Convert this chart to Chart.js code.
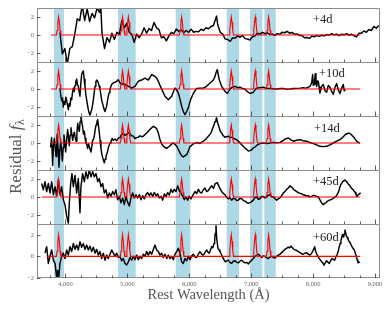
<!DOCTYPE html>
<html>
<head>
<meta charset="utf-8">
<script src="https://cdn.jsdelivr.net/npm/chart.js@4.4.1/dist/chart.umd.min.js"></script>
<style>
  body { margin: 0; background: #fff; }
  #wrap { position: relative; width: 390px; height: 312px; }
  #wrap canvas { position: absolute; left: 0; top: 0; }
</style>
</head>
<body>
<div id="wrap"></div>
<script>
// epochs of the residual spectra, top to bottom
const epochs = ['+4d', '+10d', '+14d', '+45d', '+60d'];

const heLines = [3889, 4922, 5016, 5876, 6678, 7065, 7281];
const lineOffsets = [-36, -24, -12, 0, 12, 24, 36];
const lineShape = [0, 0.5, 1.4, 2, 1.4, 0.5, 0];

// shaded line regions (Angstrom)
const bands = [[3815, 3975], [4849, 5134], [5781, 6017], [6604, 6803], [6981, 7180], [7212, 7396]];

// wavelength span of the red model in each panel
const modelRange = [[3766, 8760], [3766, 8760], [3766, 8760], [3616, 8760], [3696, 8760]];
const yRange = [[-3, 3], [-3, 3], [-3, 3], [-3, 3], [-2, 3]];
const yTicks = [-2, 0, 2];
const xTicks = [4000, 5000, 6000, 7000, 8000, 9000];

// residual spectra [wavelength, residual]
const spec4d = [[3910,0.3],[3950,-2.1],[3990,-1.5],[4030,-3.2],[4070,-1.5],[4110,-1.3],[4150,0.1],[4190,1.8],[4230,1.6],[4270,3.3],[4310,1.6],[4350,2.9],[4390,1.5],[4430,2.4],[4470,1.9],[4510,3.0],[4550,2.5],[4570,3.2],[4590,0.2],[4630,-1.5],[4670,-0.3],[4710,-0.8],[4750,0.2],[4790,-0.5],[4830,0.3],[4870,0.1],[4910,1.6],[4950,0.8],[4990,1.3],[5030,0.3],[5070,0.1],[5110,-0.8],[5150,0.1],[5190,-0.3],[5230,0.1],[5270,0.8],[5310,0.2],[5350,0.7],[5390,0.5],[5430,1.4],[5470,0.8],[5510,0.6],[5550,-0.3],[5590,-0.2],[5630,-0.65],[5670,-0.1],[5710,0.3],[5750,0.15],[5790,0.65],[5830,0.4],[5870,0.55],[5910,0.25],[5950,0.5],[5990,0.3],[6030,0.65],[6070,0.3],[6110,0.4],[6150,0.35],[6190,0.65],[6230,0.5],[6270,0.8],[6310,0.7],[6350,0.95],[6390,1.05],[6420,1.7],[6440,2.1],[6460,1.1],[6500,0.3],[6540,0.1],[6580,-0.45],[6620,-0.5],[6660,-0.7],[6700,-0.3],[6740,-0.35],[6780,-0.1],[6820,-0.25],[6860,-0.05],[6900,-0.4],[6940,-0.45],[6980,-0.55],[7020,-0.2],[7060,-0.1],[7100,0.2],[7140,0.1],[7180,0.3],[7220,0.15],[7260,0.25],[7300,0.05],[7340,0.1],[7380,-0.05],[7420,0.15],[7460,0.1],[7500,0.3],[7540,0.25],[7580,0.4],[7620,0.2],[7660,0.28],[7700,0.1],[7740,0.12],[7780,-0.05],[7820,-0.05],[7860,-0.3],[7900,-0.28],[7940,-0.38],[7980,-0.12],[8020,-0.2],[8060,-0.05],[8100,-0.15],[8140,-0.02],[8180,-0.1],[8220,0.05],[8260,-0.02],[8300,0.14],[8340,0.02],[8380,0.1],[8420,-0.06],[8460,0.08],[8500,0.02],[8540,0.15],[8580,-0.02],[8620,0.08],[8660,-0.08],[8700,-0.2],[8740,0.2],[8780,0.2],[8820,0.45],[8860,0.3],[8900,0.6],[8940,0.5],[8980,0.95],[9020,0.75],[9060,1.05]];

const spec10d = [[3911,0.1],[3925,-0.8],[3938,-1.3],[3952,-1.0],[3965,-2.0],[3980,-1.4],[3992,-1.7],[4006,-0.9],[4019,-1.3],[4033,-1.8],[4046,-2.3],[4060,-1.6],[4073,-1.9],[4086,-1.0],[4100,-1.2],[4113,-0.4],[4127,0.1],[4140,-0.3],[4154,0.4],[4167,0.8],[4181,1.1],[4194,0.5],[4207,0.3],[4220,-0.3],[4234,-0.8],[4247,0.6],[4261,1.6],[4275,1.9],[4288,2.0],[4302,1.1],[4315,0.3],[4329,-0.6],[4342,-1.2],[4356,-1.8],[4369,-2.3],[4383,-2.7],[4396,-2.9],[4410,-2.6],[4423,-2.3],[4437,-1.8],[4450,-1.2],[4464,-0.4],[4477,0.3],[4491,0.8],[4504,1.0],[4517,0.9],[4530,0.7],[4544,0.3],[4557,0],[4571,-0.6],[4584,-1.2],[4598,-1.6],[4611,-1.9],[4625,-2.3],[4638,-2.5],[4652,-2.2],[4665,-1.9],[4679,-1.3],[4692,-0.8],[4706,-0.4],[4719,0],[4746,0.5],[4773,0.7],[4800,0.75],[4827,0.85],[4840,1.0],[4853,1.0],[4880,0.7],[4907,0.5],[4934,0.6],[4961,0.5],[4988,0.4],[5015,0.3],[5042,0.2],[5069,0.1],[5096,0.2],[5123,0.3],[5150,0.6],[5176,0.85],[5203,0.95],[5230,1.0],[5257,1.1],[5284,1.2],[5311,1.1],[5338,1.0],[5365,1.3],[5392,1.6],[5419,1.5],[5446,1.4],[5473,1.2],[5500,0.85],[5526,0.4],[5553,0],[5580,-0.4],[5607,-0.8],[5634,-1.0],[5661,-1.2],[5688,-1.0],[5715,-0.8],[5742,-0.3],[5769,0.1],[5796,-0.1],[5823,-0.45],[5849,-1.1],[5876,-1.9],[5903,-2.5],[5930,-2.85],[5957,-2.5],[5984,-2.1],[6011,-1.4],[6038,-0.9],[6065,-0.5],[6092,-0.2],[6119,0.05],[6172,0.1],[6226,0.1],[6280,0.3],[6307,0.5],[6350,0.75],[6388,1.0],[6410,1.3],[6431,1.8],[6452,2.15],[6470,1.5],[6485,1.0],[6522,0.3],[6550,0],[6576,-0.25],[6614,-0.5],[6657,0],[6700,0.2],[6738,0.3],[6780,0.15],[6818,0.2],[6860,0.05],[6899,0],[6940,-0.3],[6980,-0.5],[7034,-0.37],[7060,-0.1],[7088,0.1],[7140,0.15],[7195,0.2],[7250,0.05],[7303,0.07],[7357,0.02],[7411,0],[7465,0.06],[7518,0.07],[7570,-0.02],[7626,0],[7680,0.05],[7734,0.07],[7790,0.1],[7841,0.15],[7880,0.1],[7922,0.2],[7950,0.3],[7976,0.67],[7992,1.6],[8003,0.4],[8014,0.5],[8024,1.0],[8035,1.7],[8046,0.6],[8057,0.3],[8070,0.9],[8084,0.85],[8097,0.2],[8110,-0.45],[8137,0.3],[8164,0.5],[8190,-0.2],[8218,-0.37],[8245,0.4],[8272,0.2],[8300,-0.3],[8326,-0.6],[8353,0.2],[8380,0.6],[8406,-0.1],[8433,-0.5],[8460,0.1],[8487,0.5],[8503,-0.2],[8520,-0.07]];

const spec14d = [[3760,-0.5],[3776,0.6],[3793,-2.5],[3806,-0.3],[3820,0.5],[3833,-0.4],[3847,-1.5],[3858,0.2],[3868,1.0],[3882,-0.8],[3895,-2.7],[3908,-1.0],[3922,0.2],[3936,-0.7],[3949,-2.0],[3963,-0.5],[3976,0.9],[3990,0.1],[4003,-1.0],[4020,0.4],[4035,1.5],[4048,0.6],[4062,-0.3],[4075,0.9],[4089,1.7],[4102,1.0],[4116,0.3],[4130,0.9],[4143,1.2],[4157,0.6],[4170,0.2],[4184,1.0],[4197,2.2],[4210,1.6],[4224,1.3],[4237,2.4],[4250,3.1],[4264,2.3],[4277,1.8],[4290,1.0],[4304,1.3],[4318,0.5],[4331,0.0],[4345,-0.2],[4358,-0.6],[4372,-0.1],[4385,-0.4],[4398,-0.7],[4412,-1.0],[4425,-0.4],[4439,0.3],[4452,0.4],[4466,0.8],[4480,1.5],[4493,2.0],[4506,2.3],[4520,2.6],[4533,1.9],[4546,1.2],[4560,0.2],[4573,-0.6],[4586,-1.2],[4600,-1.6],[4613,-1.9],[4627,-2.2],[4640,-1.8],[4654,-1.5],[4668,-1.2],[4681,-0.9],[4694,-0.5],[4708,-0.2],[4722,0.0],[4735,0.2],[4754,0.5],[4773,0.3],[4800,0.45],[4827,0.25],[4853,0.55],[4880,0.6],[4907,0.95],[4934,1.1],[4961,0.85],[4988,0.95],[5015,1.15],[5042,1.0],[5069,0.8],[5096,0.75],[5123,0.5],[5150,0.6],[5176,0.65],[5203,0.8],[5230,0.7],[5257,0.75],[5284,0.95],[5311,1.1],[5338,1.3],[5365,1.5],[5392,1.7],[5419,1.85],[5446,1.75],[5473,1.6],[5500,1.1],[5526,0.4],[5553,-0.1],[5580,-0.35],[5607,-0.5],[5634,-0.6],[5661,-0.45],[5688,-0.3],[5715,-0.1],[5742,0],[5769,-0.15],[5796,-0.35],[5823,-0.7],[5849,-1.1],[5876,-1.4],[5903,-1.55],[5930,-1.4],[5957,-1.3],[5984,-0.9],[6011,-0.4],[6065,-0.1],[6119,0.05],[6172,-0.05],[6226,0.2],[6270,0.45],[6307,0.75],[6340,1.0],[6361,1.3],[6380,1.7],[6399,2.0],[6415,2.4],[6431,2.65],[6442,2.8],[6452,2.4],[6470,2.0],[6485,1.65],[6500,1.3],[6522,1.1],[6550,0.8],[6576,0.65],[6600,0.7],[6630,0.75],[6657,0.6],[6684,0.65],[6720,0.5],[6765,0.37],[6800,0.15],[6845,-0.2],[6870,-0.35],[6899,-0.55],[6925,-0.7],[6953,-0.9],[6980,-0.85],[7007,-0.75],[7034,-0.55],[7061,-0.45],[7100,-0.2],[7141,-0.07],[7195,0],[7249,-0.07],[7300,0],[7357,0.07],[7410,0.02],[7465,0.07],[7510,0.25],[7545,0.45],[7575,0.5],[7599,0.55],[7640,0.35],[7680,0.2],[7730,0.3],[7788,0.37],[7840,0.25],[7895,0.2],[7950,0.05],[8003,-0.07],[8055,-0.2],[8110,-0.37],[8160,-0.4],[8218,-0.37],[8270,-0.2],[8326,0],[8380,0.2],[8433,0.37],[8475,0.6],[8514,0.9],[8540,1.0],[8568,1.1],[8595,1.05],[8622,0.9],[8650,0.7],[8676,0.45],[8705,0.2],[8729,0.07],[8756,0]];

const spec45d = [[3615,1.5],[3642,0.8],[3669,1.7],[3696,0.6],[3723,1.5],[3750,0.45],[3777,1.7],[3804,0.25],[3831,1.15],[3858,0.07],[3884,1.9],[3911,0.25],[3938,1.15],[3965,-0.3],[3992,-0.85],[4019,-2.1],[4046,-2.9],[4062,-0.65],[4084,1.5],[4105,2.6],[4127,1.15],[4154,2.4],[4181,0.45],[4207,2.05],[4234,-1.75],[4250,1.15],[4277,2.6],[4304,1.7],[4331,2.8],[4358,2.05],[4385,3.0],[4412,2.25],[4439,2.8],[4466,2.25],[4493,2.6],[4520,1.7],[4546,2.05],[4573,1.15],[4600,1.5],[4627,0.45],[4654,0.8],[4681,-0.1],[4708,0.45],[4735,0.07],[4762,0.6],[4789,0.25],[4815,0.8],[4842,-0.3],[4869,0.07],[4896,-0.65],[4923,-0.1],[4950,-0.85],[4977,0.07],[5004,-0.6],[5031,-1.0],[5058,-0.1],[5085,0.45],[5112,-0.1],[5139,0.25],[5166,-0.1],[5193,0.25],[5220,-0.3],[5246,0.15],[5273,-0.2],[5300,0.25],[5327,0.5],[5354,0.15],[5381,0.45],[5408,0.07],[5435,0.5],[5462,0.15],[5489,0.35],[5516,-0.1],[5543,0.07],[5570,-0.35],[5597,0.35],[5624,0.07],[5651,0.5],[5677,0.2],[5704,0.85],[5731,0.5],[5758,0.85],[5785,0.6],[5812,1.25],[5839,0.7],[5866,0.45],[5893,0.07],[5920,-0.3],[5946,0],[5973,-0.35],[6000,0.07],[6027,-0.2],[6054,0.15],[6092,0.6],[6120,0.4],[6146,0.85],[6175,0.5],[6199,0.45],[6226,0.8],[6253,1.0],[6280,0.6],[6307,0.7],[6334,1.0],[6361,1.25],[6390,0.95],[6415,1.45],[6452,1.6],[6485,1.1],[6522,0.6],[6550,0.4],[6576,0.25],[6603,-0.05],[6630,-0.2],[6657,-0.1],[6684,-0.35],[6711,-0.15],[6738,-0.2],[6765,-0.4],[6792,-0.35],[6818,-0.15],[6845,-0.2],[6872,-0.4],[6899,-0.45],[6926,-0.6],[6953,-0.7],[6991,-0.6],[7034,-0.35],[7061,-0.05],[7088,0],[7115,-0.25],[7141,-0.2],[7168,0.05],[7195,0.07],[7222,-0.1],[7249,0],[7276,0.2],[7303,0.25],[7330,0.05],[7357,0],[7384,-0.2],[7411,-0.35],[7438,-0.2],[7465,-0.1],[7491,0.15],[7518,0.45],[7545,0.6],[7572,0.85],[7600,1.0],[7626,1.25],[7650,1.1],[7669,1.0],[7690,0.8],[7712,0.7],[7735,0.6],[7760,0.5],[7787,0.4],[7814,0.35],[7841,0.25],[7868,0.2],[7895,0.1],[7922,0.15],[7949,0.02],[7976,0.07],[8003,0.18],[8030,0.15],[8057,0.05],[8084,0],[8102,-0.2],[8121,-0.45],[8142,-0.7],[8164,-0.85],[8185,-0.7],[8207,-0.65],[8234,-0.45],[8261,-0.35],[8288,-0.3],[8315,-0.2],[8342,-0.05],[8369,0.07],[8390,0.3],[8412,0.6],[8428,1.0],[8444,1.35],[8460,1.5],[8476,1.7],[8495,1.8],[8514,1.9],[8533,1.75],[8552,1.6],[8568,1.45],[8584,1.35],[8600,1.15],[8616,1.0],[8632,0.9],[8649,0.8],[8665,0.6],[8681,0.5],[8692,0.3],[8703,0.07],[8716,0.15],[8729,0.25],[8748,0.35],[8767,0.45]];

const spec60d = [[3669,0.3],[3696,0.9],[3723,-0.65],[3750,0],[3777,0.6],[3804,-0.35],[3831,-0.65],[3858,-1.95],[3874,-1.3],[3890,-2.05],[3911,-0.65],[3938,0],[3965,0.3],[3992,-0.2],[4019,0.6],[4046,0.12],[4073,0.9],[4100,0.45],[4127,1.2],[4154,0.65],[4181,1.05],[4207,0.6],[4234,1.35],[4261,0.85],[4288,1.2],[4315,0.65],[4342,1.05],[4369,0.6],[4396,0.95],[4423,0.45],[4450,0.85],[4477,0.3],[4504,0.65],[4530,0.12],[4557,0.45],[4584,-0.2],[4611,0.3],[4638,-0.35],[4665,0.12],[4692,-0.2],[4719,0.2],[4746,0.6],[4773,0.3],[4800,0],[4827,0.3],[4853,-0.1],[4880,0],[4907,-0.4],[4934,-0.2],[4961,-0.65],[4988,-0.8],[5015,-0.5],[5042,-0.1],[5069,-0.35],[5096,0],[5123,-0.3],[5150,0.12],[5176,-0.3],[5203,0],[5230,-0.2],[5257,0.2],[5284,0],[5311,0.45],[5338,0.12],[5365,0.45],[5392,0.2],[5419,0.65],[5446,1.05],[5473,0.6],[5500,0.45],[5526,0.12],[5553,0.3],[5580,-0.1],[5607,0.2],[5634,-0.2],[5661,0.12],[5688,-0.2],[5715,0],[5742,-0.3],[5769,0.2],[5796,0.45],[5823,0.75],[5849,0.3],[5876,-0.5],[5903,-0.65],[5930,-0.2],[5957,-0.4],[5984,0],[6011,-0.3],[6038,0.05],[6065,0.2],[6092,-0.05],[6119,-0.1],[6145,0.2],[6172,0.45],[6199,0.2],[6226,0.12],[6253,0.35],[6280,0.6],[6301,0.4],[6323,0.3],[6342,0.6],[6361,0.9],[6380,0.8],[6399,1.2],[6410,1.6],[6420,2.15],[6431,2.85],[6442,1.7],[6463,0.75],[6480,0.6],[6495,0.45],[6517,0.2],[6538,-0.1],[6560,-0.3],[6582,-0.5],[6606,-0.4],[6630,-0.35],[6657,-0.55],[6684,-0.65],[6711,-0.45],[6738,-0.4],[6765,-0.55],[6792,-0.6],[6818,-0.45],[6845,-0.35],[6872,-0.5],[6899,-0.6],[6926,-0.55],[6953,-0.7],[6980,-0.5],[7007,-0.35],[7034,-0.2],[7061,0],[7088,0.1],[7115,0.2],[7141,0.05],[7168,-0.1],[7195,0.05],[7222,0],[7249,-0.12],[7276,-0.2],[7303,-0.05],[7330,0],[7357,-0.1],[7384,-0.15],[7411,0.02],[7438,0.12],[7465,0.2],[7491,0.35],[7518,0.5],[7545,0.65],[7572,0.75],[7599,0.85],[7620,0.8],[7642,0.95],[7666,0.8],[7690,0.65],[7712,0.6],[7734,0.55],[7760,0.45],[7788,0.35],[7814,0.25],[7841,0.2],[7868,0.3],[7895,0.35],[7922,0.2],[7949,0.12],[7970,0.25],[7992,0.45],[8008,0.65],[8024,0.9],[8040,0.5],[8057,0.2],[8078,0],[8100,-0.2],[8118,-0.35],[8137,-0.5],[8156,-0.6],[8175,-0.8],[8196,-0.6],[8218,-0.4],[8240,-0.55],[8261,-0.65],[8282,-0.4],[8304,-0.2],[8325,-0.3],[8347,-0.35],[8368,-0.05],[8390,0.2],[8406,0.5],[8422,0.9],[8436,1.2],[8449,1.5],[8460,1.7],[8471,2.0],[8482,1.85],[8493,1.8],[8504,2.1],[8514,2.45],[8525,2.2],[8536,1.9],[8550,1.75],[8563,1.6],[8579,1.4],[8595,1.3],[8611,1.1],[8627,0.9],[8643,0.75],[8660,0.65],[8673,0.45],[8687,0.2],[8700,-0.05],[8714,-0.35],[8724,-0.6],[8740,-0.55],[8756,-0.5]];

const spectra = [spec4d, spec10d, spec14d, spec45d, spec60d];

// layout
const W = 390, H = 312;
const panelTop = [8, 62, 116, 170, 224];
const panelBottom = [62, 116, 170, 224, 278];
const labelX = [313, 319, 314, 313, 313];
const labelDy = [15.3, 15, 15.5, 15, 16.5];
const serif = '"Liberation Serif", "DejaVu Serif", serif';

function modelPoints(range) {
  const pts = [{x: range[0], y: 0}];
  heLines.forEach(c => {
    lineOffsets.forEach((o, k) => pts.push({x: c + o, y: lineShape[k]}));
  });
  pts.push({x: range[1], y: 0});
  return pts;
}

function makePanel(i) {
  const last = i === epochs.length - 1;
  const canvas = document.createElement('canvas');
  canvas.width = W; canvas.height = H;
  document.getElementById('wrap').appendChild(canvas);

  const panelPlugin = {
    id: 'panel' + i,
    beforeDatasetsDraw(chart) {
      const {ctx, chartArea: a, scales: {x}} = chart;
      ctx.save();
      ctx.fillStyle = '#add8e6';
      bands.forEach(b => {
        const x1 = x.getPixelForValue(b[0]), x2 = x.getPixelForValue(b[1]);
        ctx.fillRect(x1, a.top, x2 - x1, a.bottom - a.top);
      });
      ctx.restore();
    },
    afterDatasetsDraw(chart) {
      const {ctx, chartArea: a, scales: {x, y}} = chart;
      ctx.save();
      // frame
      ctx.strokeStyle = '#8c8c8c';
      ctx.lineWidth = 1;
      ctx.beginPath();
      ctx.moveTo(a.left + 0.5, a.bottom);
      ctx.lineTo(a.left + 0.5, a.top + 0.5);
      ctx.lineTo(a.right - 0.5, a.top + 0.5);
      ctx.lineTo(a.right - 0.5, a.bottom);
      if (last) { ctx.moveTo(a.left, a.bottom - 0.5); ctx.lineTo(a.right, a.bottom - 0.5); }
      ctx.stroke();
      // inward ticks
      ctx.strokeStyle = '#333';
      ctx.lineWidth = 0.8;
      ctx.beginPath();
      for (let w = 3750; w <= 9000; w += 250) {
        const px = Math.round(x.getPixelForValue(w)) + 0.5;
        const len = w % 1000 === 0 ? 4.5 : 2.5;
        ctx.moveTo(px, a.bottom);
        ctx.lineTo(px, a.bottom - len);
      }
      yTicks.forEach(v => {
        const py = Math.round(y.getPixelForValue(v)) + 0.5;
        ctx.moveTo(a.left, py);
        ctx.lineTo(a.left + 3.5, py);
      });
      ctx.stroke();
      // epoch label
      ctx.fillStyle = '#222';
      ctx.font = '12.5px ' + serif;
      ctx.textBaseline = 'alphabetic';
      ctx.fillText(epochs[i], labelX[i], a.top + labelDy[i]);
      // shared y title
      if (last) {
        ctx.save();
        ctx.translate(20.5, 194);
        ctx.rotate(-Math.PI / 2);
        ctx.fillStyle = '#555';
        ctx.font = '17px ' + serif;
        ctx.fillText('Residual ', 0, 0);
        let off = ctx.measureText('Residual ').width;
        ctx.font = 'italic 17px ' + serif;
        ctx.fillText('f', off, 0);
        off += ctx.measureText('f').width + 0.5;
        ctx.font = '12px ' + serif;
        ctx.fillText('λ', off, 3);
        ctx.restore();
      }
      ctx.restore();
    }
  };

  return new Chart(canvas, {
    type: 'line',
    data: {
      datasets: [
        {
          data: modelPoints(modelRange[i]),
          borderColor: '#ff0000',
          borderWidth: 1.1,
          pointRadius: 0,
          tension: 0,
          clip: 0
        },
        {
          data: spectra[i].map(p => ({x: p[0], y: p[1]})),
          borderColor: '#000',
          borderWidth: 1.45,
          borderJoinStyle: 'round',
          pointRadius: 0,
          tension: 0,
          clip: 0
        }
      ]
    },
    options: {
      responsive: false,
      animation: false,
      devicePixelRatio: 1,
      events: [],
      layout: {padding: {left: 0, right: W - 380, top: panelTop[i], bottom: last ? 0 : H - panelBottom[i]}},
      plugins: {legend: {display: false}, tooltip: {enabled: false}},
      scales: {
        x: {
          type: 'linear',
          min: 3540,
          max: 9080,
          display: last,
          afterFit: s => { s.height = last ? H - 278 : 0; },
          afterBuildTicks: s => { s.ticks = xTicks.map(v => ({value: v})); },
          grid: {display: false, drawTicks: false},
          border: {display: false},
          ticks: {
            autoSkip: false,
            maxRotation: 0,
            padding: 2,
            color: '#666',
            font: {family: serif, size: 6.5}
          },
          title: {
            display: true,
            text: 'Rest Wavelength (Å)',
            color: '#555',
            font: {family: serif, size: 14.5},
            padding: {top: 0, bottom: 8.3}
          }
        },
        y: {
          type: 'linear',
          min: yRange[i][0],
          max: yRange[i][1],
          afterFit: s => { s.width = 37; },
          afterBuildTicks: s => { s.ticks = yTicks.map(v => ({value: v})); },
          grid: {display: false, drawTicks: false},
          border: {display: false},
          ticks: {
            autoSkip: false,
            padding: 3,
            color: '#666',
            font: {family: serif, size: 6.5},
            callback: v => String(v).replace('-', '\u2212')
          }
        }
      }
    },
    plugins: [panelPlugin]
  });
}

epochs.forEach((e, i) => makePanel(i));
</script>
</body>
</html>
